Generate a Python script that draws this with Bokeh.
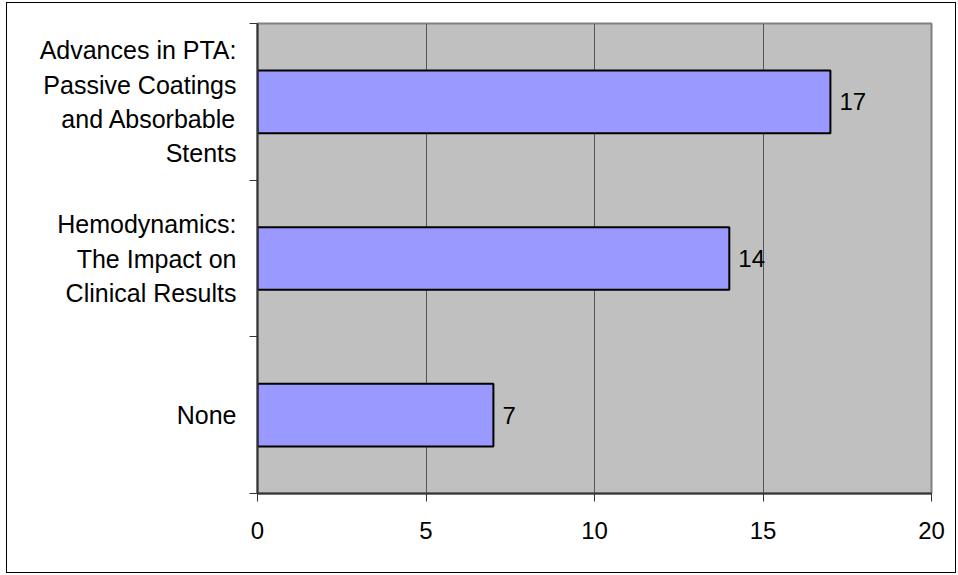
from bokeh.plotting import figure
from bokeh.models import (Range1d, LinearAxis, FixedTicker, ColumnDataSource)
from bokeh.embed import file_html
from bokeh.resources import INLINE

categories = ["None",
              "Hemodynamics:\nThe Impact on\nClinical Results",
              "Advances in PTA:\nPassive Coatings\nand Absorbable\nStents"]
values = [7, 14, 17]
x_ticks = [0, 5, 10, 15, 20]

FONT = "Liberation Sans"
FS = "24px"
FS_CAT = "25px"

n = len(categories)
centers = [i + 0.5 for i in range(n)]
src = ColumnDataSource(dict(y=centers, val=values,
                            lab=[str(v) for v in values]))

p = figure(width=950, height=571, output_backend="svg", toolbar_location=None,
           y_range=Range1d(0, n), x_range=Range1d(0, 20),
           y_axis_location=None, x_axis_location="below",
           min_border_left=250, min_border_top=20, min_border_bottom=81,
           min_border_right=26)
p.styles = {"border": "1px solid #000000", "margin-left": "6px", "margin-top": "2px"}

p.background_fill_color = "#C0C0C0"
p.border_fill_color = "#FFFFFF"
p.outline_line_color = "#808080"
p.outline_line_width = 2

# category axis: names at centres, tick marks at category boundaries
yax = LinearAxis(ticker=FixedTicker(ticks=centers, minor_ticks=list(range(n + 1))),
                 major_label_overrides={c: lab for c, lab in zip(centers, categories)},
                 major_tick_line_color=None,
                 major_tick_out=8, major_tick_in=0,
                 minor_tick_out=8, minor_tick_in=0,
                 minor_tick_line_color="#333333", minor_tick_line_width=1,
                 axis_line_color="#333333", axis_line_width=2,
                 major_label_text_font=FONT,
                 major_label_text_font_size=FS_CAT,
                 major_label_text_color="#000000",
                 major_label_text_line_height=1.23,
                 major_label_standoff=13)
p.add_layout(yax, "left")

xa = p.xaxis[0]
xa.ticker = FixedTicker(ticks=x_ticks)
xa.major_tick_out = 8
xa.major_tick_in = 0
xa.minor_tick_line_color = None
xa.axis_line_color = "#333333"
xa.axis_line_width = 2
xa.major_tick_line_color = "#333333"
xa.major_label_text_font = FONT
xa.major_label_text_font_size = FS
xa.major_label_text_color = "#000000"
xa.major_label_standoff = 20

p.xgrid.ticker = FixedTicker(ticks=x_ticks)
p.xgrid.grid_line_color = "#555555"
p.xgrid.grid_line_width = 1
p.ygrid.grid_line_color = None

p.hbar(y="y", right="val", left=0, height=0.4, source=src,
       fill_color="#9999FF", line_color="#000000", line_width=2)

p.text(x="val", y="y", text="lab", source=src, x_offset=9,
       text_baseline="middle", text_align="left",
       text_font={"value": FONT}, text_font_size=FS, text_color="#000000")

open("out.html", "w").write(file_html(p, INLINE))
